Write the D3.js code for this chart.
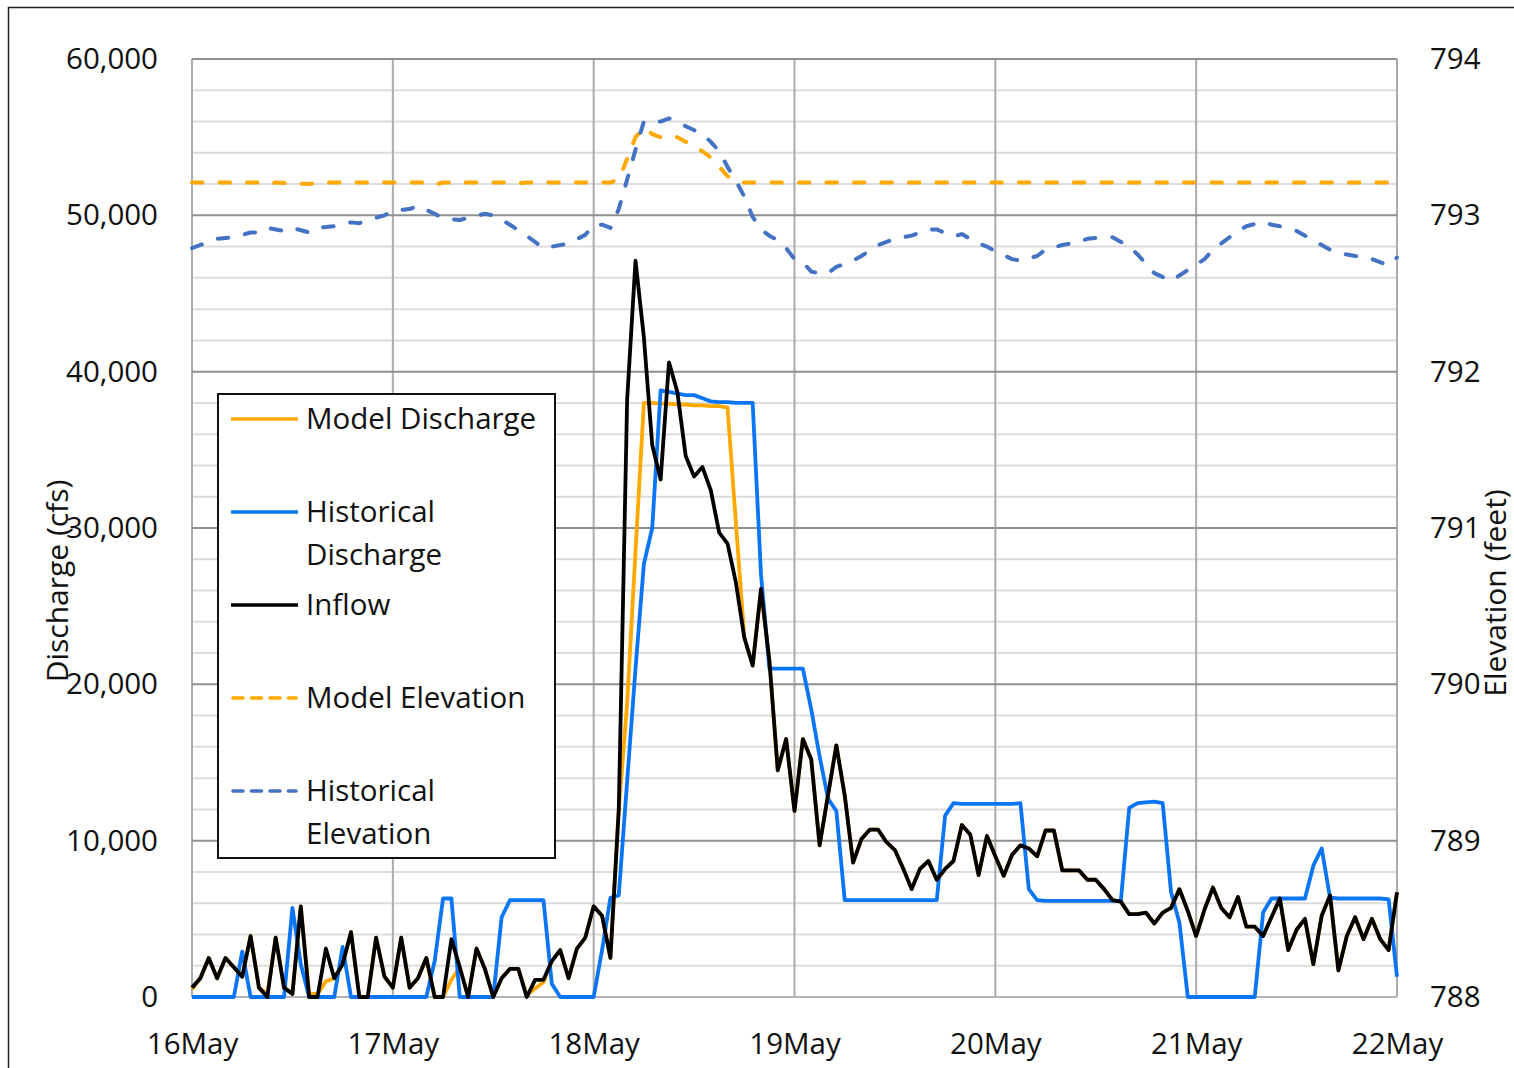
<!DOCTYPE html>
<html>
<head>
<meta charset="utf-8">
<script src="https://cdn.jsdelivr.net/npm/d3@7"></script>
<style>
  body { margin: 0; background: #fff; }
  text { font-family: "Open Sans", "Noto Sans", sans-serif; fill: #111; }
</style>
</head>
<body>
<svg id="chart" width="1514" height="1068"></svg>
<script>
// Day boundaries on the time axis (hourly series, 6 days = 144 h)
const dayLabels = ["16May", "17May", "18May", "19May", "20May", "21May", "22May"];
const dischargeTicks = [0, 10000, 20000, 30000, 40000, 50000, 60000];
const elevationTicks = [788, 789, 790, 791, 792, 793, 794];

// Hourly inflow (cfs), hour 0 = 16 May 00:00
const inflow = [
  600, 1200, 2500, 1200, 2500, 1900, 1300, 3900, 600, 0,
  3800, 600, 200, 5800, 0, 0, 3100, 1200, 2100, 4150,
  0, 0, 3800, 1300, 600, 3800, 600, 1200, 2500, 0,
  0, 3700, 1900, 0, 3100, 1800, 0, 1200, 1800, 1800,
  0, 1100, 1100, 2300, 3000, 1200, 3100, 3800, 5800, 5200,
  2500, 12000, 38200, 47100, 42200, 35300, 33100, 40600, 38700, 34600,
  33300, 33900, 32400, 29700, 29000, 26500, 23000, 21200, 26100, 21500,
  14500, 16500, 11900, 16500, 15200, 9700, 12900, 16100, 12900, 8600,
  10100, 10700, 10700, 9900, 9400, 8200, 6900, 8200, 8700, 7500,
  8200, 8700, 11000, 10400, 7800, 10300, 9000, 7750, 9100, 9700,
  9500, 9000, 10650, 10650, 8100, 8100, 8100, 7500, 7500, 6900,
  6200, 6100, 5300, 5300, 5400, 4700, 5400, 5700, 6900, 5500,
  3900, 5600, 7000, 5700, 5100, 6400, 4500, 4500, 3900, 5100,
  6300, 3000, 4300, 5000, 2100, 5200, 6500, 1700, 3900, 5100,
  3700, 5000, 3700, 3000, 6700
];

// Hourly model discharge (cfs)
const modelDischarge = [
  500, 1200, 2500, 1200, 2500, 1900, 1300, 3900, 600, 200,
  3800, 600, 200, 5800, 200, 200, 1000, 1200, 2100, 4150,
  0, 0, 3800, 1300, 600, 3800, 600, 1200, 2500, 0,
  0, 1100, 1900, 0, 3100, 1800, 0, 1200, 1800, 1800,
  100, 550, 950, 2300, 3000, 1200, 3100, 3800, 5800, 5200,
  2500, 12000, 18800, 28500, 38000, 38000, 37950, 37950, 37900, 37900,
  37850, 37850, 37800, 37800, 37700, 30300, 23000, 21200, 26100, 21500,
  14500, 16500, 11900, 16500, 15200, 9700, 12900, 16100, 12900, 8600,
  10100, 10700, 10700, 9900, 9400, 8200, 6900, 8200, 8700, 7500,
  8200, 8700, 11000, 10400, 7800, 10300, 9000, 7750, 9100, 9700,
  9500, 9000, 10650, 10650, 8100, 8100, 8100, 7500, 7500, 6900,
  6200, 6100, 5300, 5300, 5400, 4700, 5400, 5700, 6900, 5500,
  3900, 5600, 7000, 5700, 5100, 6400, 4500, 4500, 3900, 5100,
  6300, 3000, 4300, 5000, 2100, 5200, 6500, 1700, 3900, 5100,
  3700, 5000, 3700, 3000, 6700
];

// Hourly historical discharge (cfs)
const historicalDischarge = [
  0, 0, 0, 0, 0, 0, 2900, 0, 0, 0,
  0, 0, 5700, 2100, 0, 0, 0, 0, 3200, 0,
  0, 0, 0, 0, 0, 0, 0, 0, 0, 2300,
  6300, 6300, 0, 0, 0, 0, 0, 5100, 6200, 6200,
  6200, 6200, 6200, 850, 0, 0, 0, 0, 0, 3000,
  6350, 6500, 13800, 21000, 27700, 30000, 38800, 38700, 38600, 38500,
  38500, 38300, 38100, 38050, 38050, 38000, 38000, 38000, 27000, 21000,
  21000, 21000, 21000, 21000, 18400, 15400, 12700, 11900, 6200, 6200,
  6200, 6200, 6200, 6200, 6200, 6200, 6200, 6200, 6200, 6200,
  11600, 12400, 12350, 12350, 12350, 12350, 12350, 12350, 12350, 12400,
  6900, 6200, 6150, 6150, 6150, 6150, 6150, 6150, 6150, 6150,
  6150, 6150, 12100, 12400, 12450, 12500, 12400, 6700, 4750, 0,
  0, 0, 0, 0, 0, 0, 0, 0, 5400, 6300,
  6300, 6300, 6300, 6300, 8400, 9500, 6350, 6300, 6300, 6300,
  6300, 6300, 6300, 6250, 1300
];

// Reservoir elevation (feet), [hour, elevation]
const modelElevation = [
  [0, 793.21], [8, 793.21], [9, 793.2], [10, 793.21], [14, 793.2], [15, 793.21],
  [28, 793.21], [29, 793.195], [30, 793.21], [38, 793.21], [39, 793.205], [40, 793.21],
  [50, 793.21], [51, 793.23], [52, 793.36], [53, 793.5], [54, 793.56], [55, 793.52],
  [56, 793.5], [57, 793.51], [58, 793.5], [59, 793.47], [60, 793.44], [61, 793.41],
  [62, 793.37], [63, 793.31], [64, 793.25], [65, 793.22], [66, 793.21], [144, 793.21]
];

const historicalElevation = [
  [0, 792.79], [2, 792.83], [3, 792.85], [5, 792.86], [7, 792.89], [8, 792.89],
  [9, 792.92], [11, 792.9], [12, 792.92], [14, 792.89], [15, 792.92], [17, 792.93],
  [19, 792.955], [20, 792.95], [21, 792.97], [23, 793.0], [24, 793.03], [26, 793.04],
  [27, 793.06], [29, 793.01], [30, 792.98], [32, 792.97], [33, 792.985], [35, 793.01],
  [36, 793.0], [38, 792.94], [39, 792.905], [41, 792.83], [42, 792.79], [43, 792.8],
  [45, 792.82], [47, 792.875], [48, 792.94], [49, 792.94], [50, 792.92], [51, 793.04],
  [52, 793.23], [53, 793.42], [54, 793.6], [56, 793.6], [57, 793.62], [59, 793.57],
  [61, 793.52], [62, 793.47], [63, 793.41], [64, 793.31], [65, 793.22], [66, 793.12],
  [67, 792.99], [68, 792.91], [69, 792.87], [70, 792.84], [71, 792.79], [72, 792.72],
  [73, 792.7], [74, 792.64], [75, 792.63], [76, 792.63], [77, 792.67], [79, 792.71],
  [80, 792.74], [82, 792.81], [83, 792.83], [84, 792.85], [86, 792.87], [88, 792.91],
  [89, 792.91], [91, 792.865], [92, 792.88], [94, 792.82], [95, 792.8], [96, 792.77],
  [98, 792.72], [99, 792.71], [101, 792.74], [102, 792.78], [104, 792.81], [106, 792.83],
  [107, 792.85], [109, 792.86], [110, 792.86], [112, 792.8], [113, 792.75], [114, 792.69],
  [115, 792.63], [117, 792.58], [118, 792.615], [119, 792.65], [121, 792.72], [122, 792.78],
  [123, 792.82], [125, 792.9], [126, 792.93], [128, 792.96], [129, 792.94], [130, 792.93],
  [132, 792.9], [134, 792.84], [136, 792.78], [137, 792.76], [139, 792.74], [141, 792.72],
  [143, 792.68], [144, 792.73]
];

const colors = {
  model: "#FFA800",
  historical: "#0A75F5",
  inflow: "#000000",
  histElev: "#4472C4"
};

const svg = d3.select("#chart");
const W = 1514, H = 1068;
const plot = { left: 192, right: 1397, top: 59, bottom: 997 };
const labelFont = "29.5px";
const titleFont = "30px";

svg.append("rect").attr("width", W).attr("height", H).attr("fill", "#fff");
// chart-area frame
svg.append("rect")
  .attr("x", 8.5).attr("y", 7.5).attr("width", W + 20).attr("height", H + 20)
  .attr("fill", "none").attr("stroke", "#222").attr("stroke-width", 1.5);

const hours = 144;
const x = d3.scaleLinear().domain([0, hours]).range([plot.left, plot.right]);
const yQ = d3.scaleLinear().domain([0, 60000]).range([plot.bottom, plot.top]);
const yE = d3.scaleLinear().domain([788, 794]).range([plot.bottom, plot.top]);

const grid = svg.append("g");
// minor horizontal gridlines every 2,000 cfs
d3.range(0, 60001, 2000).filter(v => v % 10000 !== 0).forEach(v => {
  grid.append("line")
    .attr("x1", plot.left).attr("x2", plot.right)
    .attr("y1", yQ(v)).attr("y2", yQ(v))
    .attr("stroke", "#dcdcdc").attr("stroke-width", 2);
});
// vertical day gridlines
dayLabels.forEach((d, i) => {
  grid.append("line")
    .attr("x1", x(i * 24)).attr("x2", x(i * 24))
    .attr("y1", plot.top).attr("y2", plot.bottom)
    .attr("stroke", "#ababab").attr("stroke-width", 2);
});
// major horizontal gridlines
dischargeTicks.forEach(v => {
  grid.append("line")
    .attr("x1", plot.left).attr("x2", plot.right)
    .attr("y1", yQ(v)).attr("y2", yQ(v))
    .attr("stroke", v === 0 ? "#b3b3b3" : "#8f8f8f").attr("stroke-width", 2);
});

function styleTicks(sel) {
  sel.select(".domain").remove();
  sel.selectAll("text").style("font-size", labelFont).attr("fill", "#111")
    .style("font-family", "'Open Sans', sans-serif");
}

// axes labels
svg.append("g").attr("transform", `translate(${plot.left},0)`)
  .call(d3.axisLeft(yQ).tickValues(dischargeTicks)
    .tickFormat(d3.format(",")).tickSize(0).tickPadding(34))
  .call(styleTicks);

svg.append("g").attr("transform", `translate(${plot.right},0)`)
  .call(d3.axisRight(yE).tickValues(elevationTicks)
    .tickFormat(d3.format("d")).tickSize(0).tickPadding(33))
  .call(styleTicks);

svg.append("g").attr("transform", `translate(0,${plot.bottom})`)
  .call(d3.axisBottom(x).tickValues(dayLabels.map((d, i) => i * 24))
    .tickFormat((d, i) => dayLabels[i]).tickSize(0).tickPadding(36))
  .call(styleTicks);

// axis titles
svg.append("text")
  .attr("transform", "translate(68,581) rotate(-90)")
  .attr("text-anchor", "middle").style("font-size", titleFont)
  .text("Discharge (cfs)");
svg.append("text")
  .attr("transform", "translate(1506,593) rotate(-90)")
  .attr("text-anchor", "middle").style("font-size", titleFont)
  .text("Elevation (feet)");

// series
const lineQ = d3.line().x((d, i) => x(i)).y(d => yQ(d));
const lineE = d3.line().x(d => x(d[0])).y(d => yE(d[1]));
const series = svg.append("g")
  .attr("fill", "none").attr("stroke-linejoin", "round");

series.append("path").datum(modelDischarge).attr("d", lineQ)
  .attr("stroke", colors.model).attr("stroke-width", 3.8);
series.append("path").datum(historicalDischarge).attr("d", lineQ)
  .attr("stroke", colors.historical).attr("stroke-width", 3.8);
series.append("path").datum(inflow).attr("d", lineQ)
  .attr("stroke", colors.inflow).attr("stroke-width", 3.8);

const dash = "10.5,17";
series.append("path").datum(modelElevation).attr("d", lineE)
  .attr("stroke", colors.model).attr("stroke-width", 4)
  .attr("stroke-dasharray", dash).attr("stroke-linecap", "round");
series.append("path").datum(historicalElevation).attr("d", lineE)
  .attr("stroke", colors.histElev).attr("stroke-width", 4)
  .attr("stroke-dasharray", dash).attr("stroke-linecap", "round");

// legend
const legend = svg.append("g");
legend.append("rect")
  .attr("x", 218).attr("y", 394).attr("width", 337).attr("height", 464)
  .attr("fill", "#fff").attr("stroke", "#111").attr("stroke-width", 2);

const legendItems = [
  { lines: ["Model Discharge"], y: 419, color: colors.model, dashed: false },
  { lines: ["Historical", "Discharge"], y: 512, color: colors.historical, dashed: false },
  { lines: ["Inflow"], y: 605, color: colors.inflow, dashed: false },
  { lines: ["Model Elevation"], y: 698, color: colors.model, dashed: true },
  { lines: ["Historical", "Elevation"], y: 791, color: colors.histElev, dashed: true }
];
legendItems.forEach(item => {
  const l = legend.append("line")
    .attr("x1", 231).attr("x2", 298).attr("y1", item.y).attr("y2", item.y)
    .attr("stroke", item.color).attr("stroke-width", 3.6);
  if (item.dashed) l.attr("stroke-dasharray", "10,8.5").attr("stroke-linecap", "round")
    .attr("x1", 233).attr("x2", 296);
  item.lines.forEach((t, k) => {
    legend.append("text")
      .attr("x", 306).attr("y", item.y + k * 43)
      .attr("dy", "0.35em").style("font-size", labelFont)
      .text(t);
  });
});
</script>
</body>
</html>
